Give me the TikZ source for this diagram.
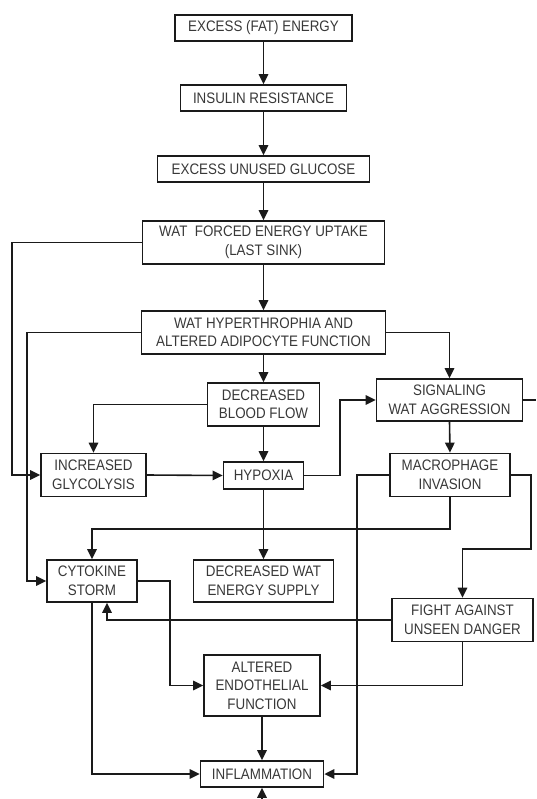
\documentclass[tikz,border=0pt]{standalone}
\usepackage{fontspec}
\setmainfont[FakeStretch=0.88]{Liberation Sans}
\usetikzlibrary{arrows.meta}
\definecolor{txt}{HTML}{383838}
\definecolor{ln}{HTML}{1A1A1A}
\tikzset{
  box/.style={draw=ln, line width=1.8pt, inner sep=0pt, align=center, text=txt,
    font=\fontsize{15.2}{18.5}\selectfont},
  arr/.style={draw=ln, line width=1.6pt, -{Triangle[length=10pt,width=9.5pt]}},
  ln/.style={draw=ln, line width=1.6pt}
}
\begin{document}
\begin{tikzpicture}[x=1pt,y=-1pt]
\useasboundingbox (0,0) rectangle (536,799);
% nodes
\node[box, minimum width=177pt, minimum height=26pt] (e1) at (263.5,28) {EXCESS (FAT) ENERGY};
\node[box, minimum width=166pt, minimum height=26pt] (e2) at (263.5,98) {INSULIN RESISTANCE};
\node[box, minimum width=212pt, minimum height=26pt] (e3) at (263.5,169) {EXCESS UNUSED GLUCOSE};
\node[box, minimum width=242pt, minimum height=43pt] (e4) at (263.5,242.5) {WAT \ FORCED ENERGY UPTAKE\\(LAST SINK)};
\node[box, minimum width=244pt, minimum height=43pt] (e5) at (263.5,332.5) {WAT HYPERTHROPHIA AND\\ALTERED ADIPOCYTE FUNCTION};
\node[box, minimum width=112pt, minimum height=43pt] (dbf) at (263.5,404.5) {DECREASED\\BLOOD FLOW};
\node[box, minimum width=146pt, minimum height=42pt] (sig) at (449.5,400) {SIGNALING\\WAT AGGRESSION};
\node[box, minimum width=105pt, minimum height=43pt] (ig) at (93.5,475) {INCREASED\\GLYCOLYSIS};
\node[box, minimum width=80pt, minimum height=27pt] (hyp) at (263.5,475.5) {HYPOXIA};
\node[box, minimum width=120pt, minimum height=43pt] (mac) at (450,475) {MACROPHAGE\\INVASION};
\node[box, minimum width=90pt, minimum height=42pt] (cyt) at (92,581) {CYTOKINE\\STORM};
\node[box, minimum width=140pt, minimum height=42pt] (dwes) at (263.5,581) {DECREASED WAT\\ENERGY SUPPLY};
\node[box, minimum width=141pt, minimum height=43pt] (fight) at (462.5,620) {FIGHT AGAINST\\UNSEEN DANGER};
\node[box, minimum width=116pt, minimum height=61pt] (aef) at (262,685.5) {ALTERED\\ENDOTHELIAL\\FUNCTION};
\node[box, minimum width=123pt, minimum height=26pt] (inf) at (262,774) {INFLAMMATION};
% helper coordinates for bends
\coordinate (c12) at (12,0);
\coordinate (c27) at (27,0);
\coordinate (c107) at (107,0);
\coordinate (c170) at (170,0);
\coordinate (c340) at (340,0);
\coordinate (c357) at (357,0);
\coordinate (k1) at (531,549);
\coordinate (k2) at (450,529);
\coordinate (rt) at (536,400);
\coordinate (bot) at (262,799);
% main chain
\draw[arr] (e1) -- (e2);
\draw[arr] (e2) -- (e3);
\draw[arr] (e3) -- (e4);
\draw[arr] (e4) -- (e5);
\draw[arr] (e5) -- (dbf);
\draw[arr] (dbf) -- (hyp);
\draw[arr] (hyp) -- (dwes);
% side connections
\draw[arr] (e4.west) -- (e4.west -| c12) |- (ig.west);
\draw[arr] (e5.west) -- (e5.west -| c27) |- (cyt.west);
\draw[arr] (e5.east) -| (sig.north);
\draw[arr] (dbf.west) -| (ig.north);
\draw[arr] (ig.east) -- (hyp.west);
\draw[arr] (hyp.east) -- (hyp.east -| c340) |- (sig.west);
\draw[arr] (sig.south) -- (mac.north);
\draw[ln] (sig.east) -- (rt);
\draw[arr] (mac.west) -- (mac.west -| c357) |- (inf.east);
\draw[arr] (mac.east) -| (k1) -| (fight.north);
\draw[arr] (mac.south) -- (k2) -| (cyt.north);
\draw[arr] (cyt.east) -- (cyt.east -| c170) |- (aef.west);
\draw[arr] (fight.west) -| (c107 |- cyt.south);
\draw[arr] (fight.south) |- (aef.east);
\draw[arr] (aef.south) -- (inf.north);
\draw[arr] (cyt.south) |- (inf.west);
\draw[arr] (bot) -- (inf.south);
\end{tikzpicture}
\end{document}
